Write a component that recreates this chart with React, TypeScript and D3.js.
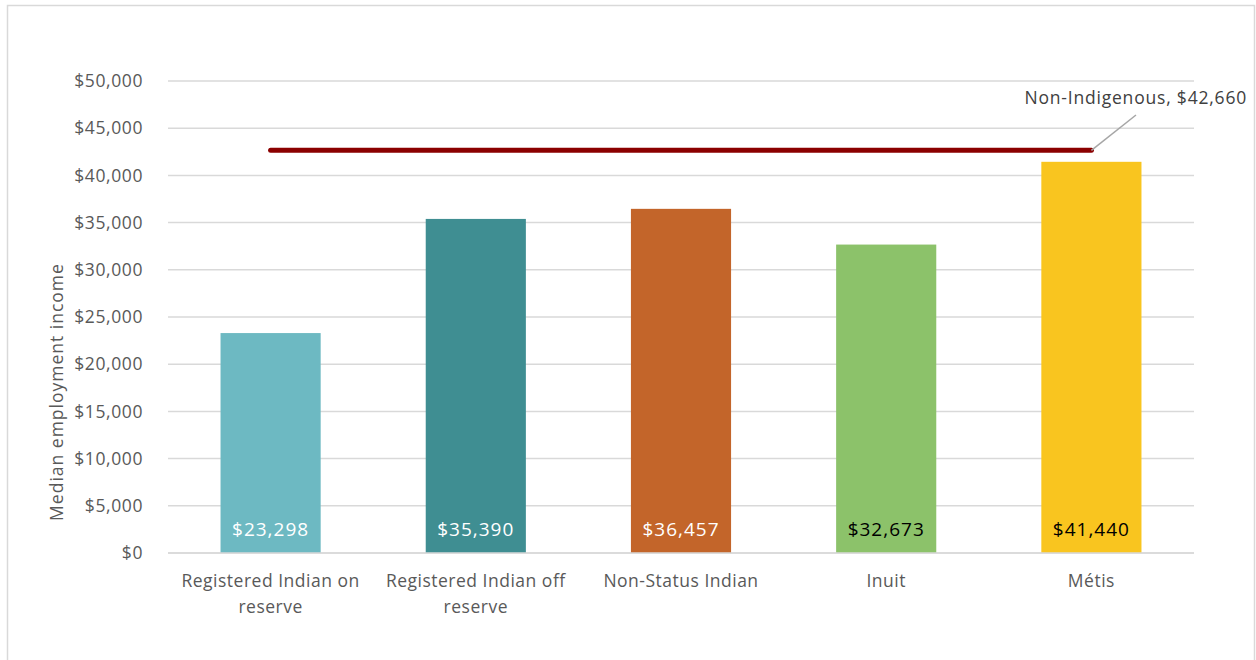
import React from "react";
import * as d3 from "d3";

const categories = ["Registered Indian on reserve", "Registered Indian off reserve", "Non-Status Indian", "Inuit", "Métis"];
const categoryLines = [["Registered Indian on", "reserve"], ["Registered Indian off", "reserve"], ["Non-Status Indian"], ["Inuit"], ["Métis"]];
const values = [23298, 35390, 36457, 32673, 41440];
const barColors = ["#6DB9C2", "#3F8E92", "#C3652A", "#8CC26A", "#F9C51F"];
const labelColors = ["#FFFFFF", "#FFFFFF", "#FFFFFF", "#000000", "#000000"];
const nonIndigenous = 42660;
const yTicks = [0, 5000, 10000, 15000, 20000, 25000, 30000, 35000, 40000, 45000, 50000];

const W = 1256, H = 660;
const left = 168, right = 1194, top = 81, bottom = 553;
const font = "'Open Sans', 'Noto Sans', sans-serif";

export default function App() {
  const x = d3.scaleBand<string>().domain(categories).range([left, right]).paddingInner(0.512).paddingOuter(0.256);
  const y = d3.scaleLinear().domain([0, 50000]).range([bottom, top]);
  const fmt = (v: number) => "$" + d3.format(",")(v);
  const cx = (c: string) => (x(c) as number) + x.bandwidth() / 2;
  const lineX1 = cx(categories[0]);
  const lineX2 = cx(categories[categories.length - 1]);
  const lineY = y(nonIndigenous);
  return (
    <svg width={W} height={H} style={{ position: "absolute", left: 0, top: 0 }}>
      <rect x={0} y={0} width={W} height={H} fill="#fff" />
      <rect x={7.5} y={5.5} width={1247} height={660} fill="#fff" stroke="#D9D9D9" strokeWidth={1.5} />
      {yTicks.map((t) => (
        <g key={t}>
          <line x1={left} x2={right} y1={y(t)} y2={y(t)} stroke="#D9D9D9" strokeWidth={1.5} />
          <text x={143} y={y(t)} dy="0.35em" textAnchor="end" fontFamily={font} fontSize={17.5} letterSpacing={0.6} fill="#595959">{fmt(t)}</text>
        </g>
      ))}
      {categories.map((c, i) => (
        <g key={c}>
          <rect x={x(c)} y={y(values[i])} width={x.bandwidth()} height={bottom - y(values[i])} fill={barColors[i]} />
          <text x={cx(c)} y={529} dy="0.35em" textAnchor="middle" fontFamily={font} fontSize={19} letterSpacing={1} fill={labelColors[i]}>{fmt(values[i])}</text>
          {categoryLines[i].map((ln, j) => (
            <text key={j} x={cx(c)} y={581 + j * 26} dy="0.35em" textAnchor="middle" fontFamily={font} fontSize={17.5} letterSpacing={0.5} fill="#595959">{ln}</text>
          ))}
        </g>
      ))}
      <line x1={left} x2={right} y1={bottom} y2={bottom} stroke="#D9D9D9" strokeWidth={1.5} />
      <line x1={lineX1} x2={lineX2} y1={lineY} y2={lineY} stroke="#8B0000" strokeWidth={5} strokeLinecap="round" />
      <line x1={lineX2} y1={lineY} x2={1136} y2={115} stroke="#A6A6A6" strokeWidth={1.5} />
      <text x={1247} y={98} dy="0.35em" textAnchor="end" fontFamily={font} fontSize={17.5} letterSpacing={0.8} fill="#404040">Non-Indigenous, {fmt(nonIndigenous)}</text>
      <text transform={`translate(57,${392}) rotate(-90)`} textAnchor="middle" dy="0.35em" fontFamily={font} fontSize={17.5} letterSpacing={1} fill="#595959">Median employment  income</text>
    </svg>
  );
}
